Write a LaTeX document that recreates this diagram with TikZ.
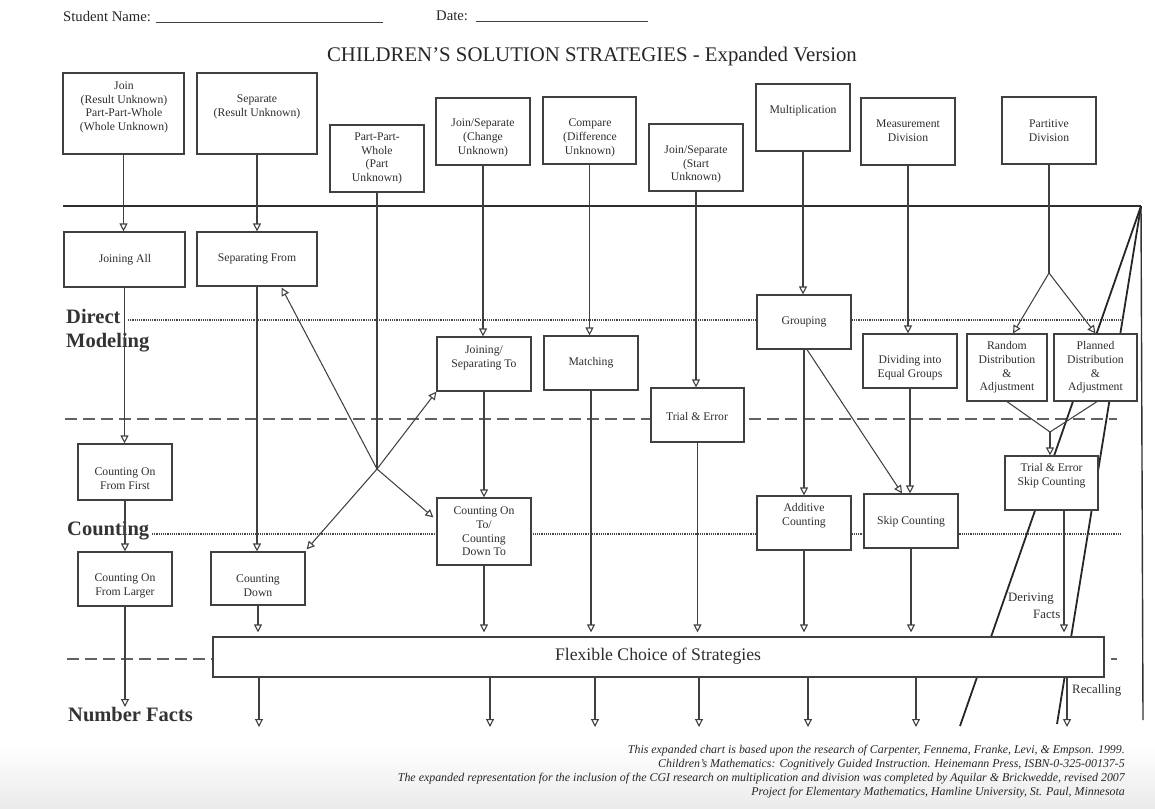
\documentclass[tikz,border=0pt]{standalone}
\usepackage{fontspec}
\setmainfont{Liberation Serif}
\usetikzlibrary{arrows.meta,fit}
\begin{document}
\begin{tikzpicture}[x=1pt,y=-1pt,
  box/.style={draw=black!75, line width=1.2pt, fill=white, inner sep=0pt},
  txt/.style={text=black!82, font=\fontsize{11.7}{13.7}\selectfont, align=center, inner sep=0pt},
  side/.style={text=black!82, font=\fontsize{12.8}{14}\selectfont, inner sep=0pt},
  conn/.style={draw=black!75, line width=1.05pt, -{Triangle[open,length=8pt,width=8pt,line width=1.1pt]}},
  plain/.style={draw=black!75, line width=1.05pt},
  dotline/.style={draw=black!72, line width=1.2pt, dash pattern=on 1.1pt off 1.1pt},
  dashline/.style={draw=black!62, line width=1.6pt, dash pattern=on 12pt off 6pt},
  lvl/.style={text=black!80, font=\fontsize{20.5}{24}\selectfont\bfseries, inner sep=1pt, anchor=base west},
  foot/.style={text=black!85, font=\fontsize{11.9}{14}\selectfont\itshape, inner sep=0pt, anchor=east},
  hdr/.style={text=black!85, font=\fontsize{14.7}{17}\selectfont, inner sep=0pt, anchor=base west},
  uline/.style={draw=black!75, line width=0.8pt},
  heavy/.style={draw=black!85, line width=1.8pt}
]
\useasboundingbox (0,0) rectangle (1155,808);
\shade[top color=white, bottom color=black!8] (0,745) rectangle (1155,808);

% header
\node[hdr] (sname) at (63,22) {Student Name:};
\coordinate (sn1) at (156,22); \coordinate (sn2) at (383,22);
\draw[uline] (sn1) -- (sn2);
\node[hdr] (date) at (436,21) {Date:};
\coordinate (dt1) at (476,21); \coordinate (dt2) at (648,21);
\draw[uline] (dt1) -- (dt2);
\node[anchor=base, inner sep=0pt, text=black!85, font=\fontsize{20.8}{24}\selectfont] (title) at (592,61) {CHILDREN'S SOLUTION STRATEGIES - Expanded Version};

% divider lines
\coordinate (dm-a) at (128,320); \coordinate (dm-b) at (1122,320);
\coordinate (da-a) at (65,419);  \coordinate (da-b) at (1117,419);
\coordinate (ct-a) at (152,534); \coordinate (ct-b) at (1122,534);
\coordinate (db-a) at (67,659);  \coordinate (db-b) at (1117,659);
\draw[dotline] (dm-a) -- (dm-b);
\draw[dashline] (da-a) -- (da-b);
\draw[dotline] (ct-a) -- (ct-b);
\draw[dashline] (db-a) -- (db-b);

% top rule and right-hand lines
\coordinate (tl) at (63,206); \coordinate (tr) at (1141,206);
\coordinate (rv) at (1143,720);
\coordinate (la) at (960,726);
\coordinate (lb) at (1057,724);
\draw[draw=black!82, line width=2.4pt] (tl) -- (tr);
\draw[draw=black!80, line width=1.4pt] (tr) -- (rv);
\draw[heavy] (tr) -- (la);
\draw[heavy] (tr) -- (lb);

% level labels
\node[lvl, fill=white] (lv-d) at (65,323) {Direct};
\node[lvl, fill=white] (lv-m) at (65,347) {Modeling};
\node[lvl] (lv-c) at (66,535) {Counting};
\node[lvl] (lv-n) at (67,721) {Number Facts};

% problem type boxes
\node[box, fit={(63,73)(184,154)}] (join) {};
\node[txt] (join-t) at (124,107.5) {Join\\(Result Unknown)\\Part-Part-Whole\\(Whole Unknown)};
\node[box, fit={(197,73)(317,154)}] (sep) {};
\node[txt] (sep-t) at (257,107) {Separate\\(Result Unknown)};
\node[box, fit={(330,125)(424,192)}] (ppw) {};
\node[txt] (ppw-t) at (377,158.5) {Part-Part-\\Whole\\(Part\\Unknown)};
\node[box, fit={(436,98)(530,165)}] (jsc) {};
\node[txt] (jsc-t) at (483,138) {Join/Separate\\(Change\\Unknown)};
\node[box, fit={(543,97)(636,164)}] (cmp) {};
\node[txt] (cmp-t) at (590,138) {Compare\\(Difference\\Unknown)};
\node[box, fit={(649,124)(743,191)}] (jss) {};
\node[txt] (jss-t) at (696,164.5) {Join/Separate\\(Start\\Unknown)};
\node[box, fit={(756,84)(850,151)}] (mult) {};
\node[txt] (mult-t) at (803,111) {Multiplication};
\node[box, fit={(861,98)(955,165)}] (meas) {};
\node[txt] (meas-t) at (908,131) {Measurement\\Division};
\node[box, fit={(1002,97)(1096,164)}] (part) {};
\node[txt] (part-t) at (1049,131) {Partitive\\Division};

% strategy boxes
\node[box, fit={(64,232)(185,287)}] (joinall) {};
\node[txt] (joinall-t) at (125,260) {Joining All};
\node[box, fit={(197,232)(317,286)}] (sepfrom) {};
\node[txt] (sepfrom-t) at (257,259) {Separating From};
\node[box, fit={(437,337)(531,391)}] (jsto) {};
\node[txt] (jsto-t) at (484,358) {Joining/\\Separating To};
\node[box, fit={(544,336)(638,390)}] (match) {};
\node[txt] (match-t) at (591,363) {Matching};
\node[box, fit={(651,388)(744,442)}] (trial) {};
\node[txt] (trial-t) at (697,416) {Trial \& Error};
\node[box, fit={(757,295)(851,349)}] (group) {};
\node[txt] (group-t) at (804,322) {Grouping};
\node[box, fit={(863,334)(957,388)}] (divide) {};
\node[txt] (divide-t) at (910,368) {Dividing into\\Equal Groups};
\node[box, fit={(967,334)(1047,401)}] (random) {};
\node[txt] (random-t) at (1007,367.5) {Random\\Distribution\\\&\\Adjustment};
\node[box, fit={(1054,334)(1137,401)}] (planned) {};
\node[txt] (planned-t) at (1095.5,367.5) {Planned\\Distribution\\\&\\Adjustment};
\node[box, fit={(78,444)(172,500)}] (coff) {};
\node[txt] (coff-t) at (125,479) {Counting On\\From First};
\node[box, fit={(437,498)(531,565)}] (counton) {};
\node[txt] (counton-t) at (484,531.5) {Counting On\\To/\\Counting\\Down To};
\node[box, fit={(757,496)(851,550)}] (additive) {};
\node[txt] (additive-t) at (804,516) {Additive\\Counting};
\node[box, fit={(864,494)(958,548)}] (skip) {};
\node[txt] (skip-t) at (911,522) {Skip Counting};
\node[box, fit={(1005,456)(1098,510)}] (tesc) {};
\node[txt] (tesc-t) at (1051.5,476) {Trial \& Error\\Skip Counting};
\node[box, fit={(78,552)(172,606)}] (cofl) {};
\node[txt] (cofl-t) at (125,586) {Counting On\\From Larger};
\node[box, fit={(211,552)(305,605)}] (cdown) {};
\node[txt] (cdown-t) at (258,585.5) {Counting\\Down};
\node[box, fit={(213,637)(1104,677)}] (flex) {};
\node[text=black!82, font=\fontsize{17.7}{20}\selectfont, inner sep=0pt] (flex-t) at (658,656) {Flexible Choice of Strategies};

% side labels
\node[side, anchor=west] (der1) at (1008,599) {Deriving};
\node[side, anchor=west] (der2) at (1033,614) {Facts};
\node[side, anchor=west] (recall) at (1072,690) {Recalling};

% connectors: problem types to strategies
\draw[conn] (join.south) -- (join.south |- joinall.north);
\draw[conn] (sep.south) -- (sep.south |- sepfrom.north);
\coordinate (J) at (377,469);
\draw[plain] (ppw.south) -- (J);
\draw[conn] (J) -- ([xshift=-36pt,yshift=-1pt]sepfrom.south east);
\draw[conn] (J) -- (jsto.south west);
\draw[conn] (J) -- ([xshift=1pt,yshift=2pt]cdown.north east);
\draw[conn] (J) -- ([xshift=-3pt,yshift=-20pt]counton.north west);
\draw[conn] (jsc.south) -- (jsc.south |- jsto.north);
\draw[conn] (cmp.south) -- (cmp.south |- match.north);
\draw[conn] (jss.south) -- (jss.south |- trial.north);
\draw[conn] (mult.south) -- (mult.south |- group.north);
\draw[conn] (meas.south) -- (meas.south |- divide.north);
\coordinate (P) at (1049,273);
\draw[plain] (part.south) -- (P);
\draw[conn] (P) -- ([xshift=6pt]random.north);
\draw[conn] (P) -- (planned.north);

% strategy to strategy
\draw[conn] (joinall.south) -- (joinall.south |- coff.north);
\draw[conn] (coff.south) -- (coff.south |- cofl.north);
\draw[conn] (sepfrom.south) -- (sepfrom.south |- cdown.north);
\draw[conn] (jsto.south) -- (jsto.south |- counton.north);
\draw[conn] (group.south) -- (group.south |- additive.north);
\draw[conn] ([xshift=3pt]group.south) -- ([xshift=-9pt]skip.north);
\draw[conn] (divide.south) -- (divide.south |- skip.north);
\coordinate (M) at (1050,432);
\draw[plain] ([xshift=0pt]random.south) -- (M);
\draw[plain] ([xshift=1.5pt]planned.south) -- (M);
\draw[conn] (M) -- (M |- tesc.north);

% into flexible choice
\draw[conn, shorten >=4pt] (cdown.south) -- (cdown.south |- flex.north);
\draw[conn, shorten >=4pt] (counton.south) -- (counton.south |- flex.north);
\draw[conn, shorten >=4pt] (match.south) -- (match.south |- flex.north);
\draw[conn, shorten >=4pt] (trial.south) -- (trial.south |- flex.north);
\draw[conn, shorten >=4pt] (additive.south) -- (additive.south |- flex.north);
\draw[conn, shorten >=4pt] (skip.south) -- (skip.south |- flex.north);
\draw[conn, shorten >=4pt] ([xshift=12.5pt]tesc.south) -- ([xshift=12.5pt]tesc.south |- flex.north);

% out to number facts
\coordinate (nf0) at (125,707);
\draw[conn] (cofl.south) -- (nf0);
\coordinate (e1) at (259,727);
\coordinate (e2) at (490,727);
\coordinate (e3) at (595,727);
\coordinate (e4) at (699,727);
\coordinate (e5) at (808,727);
\coordinate (e6) at (916,727);
\coordinate (e7) at (1067,727);
\foreach \e in {e1,e2,e3,e4,e5,e6,e7}{
  \draw[conn] (flex.south -| \e) -- (\e);
}

% footer
\node[foot] (f1) at (1125,751) {This expanded chart is based upon the research of Carpenter, Fennema, Franke, Levi, \& Empson. 1999.};
\node[foot] (f2) at (1125,765) {Children's Mathematics: Cognitively Guided Instruction. Heinemann Press, ISBN-0-325-00137-5};
\node[foot] (f3) at (1125,779) {The expanded representation for the inclusion of the CGI research on multiplication and division was completed by Aquilar \& Brickwedde, revised 2007};
\node[foot] (f4) at (1125,793) {Project for Elementary Mathematics, Hamline University, St. Paul, Minnesota};
\end{tikzpicture}
\end{document}
